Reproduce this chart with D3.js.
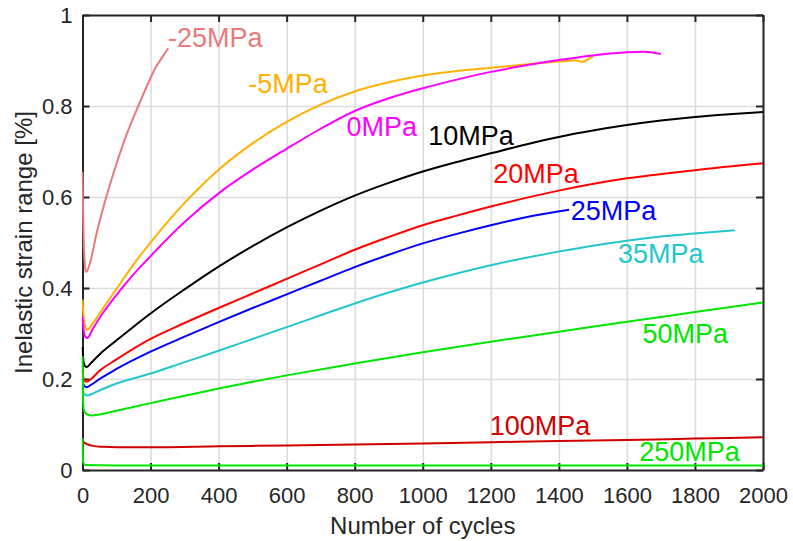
<!DOCTYPE html>
<html>
<head>
<meta charset="utf-8">
<script src="https://cdn.jsdelivr.net/npm/d3@7"></script>
<style>
  html, body { margin: 0; padding: 0; background: #fff; }
  svg { display: block; }
  text { font-family: "Liberation Sans", Arial, Helvetica, sans-serif; }
</style>
</head>
<body>
<svg id="chart" width="793" height="541"></svg>
<script>
// ---------------- DATA ----------------
const seriesNames = ["-25MPa", "-5MPa", "0MPa", "10MPa", "20MPa", "25MPa", "35MPa", "50MPa", "100MPa", "250MPa"];
const seriesColors = ["#e87a7a", "#ffb000", "#ff00ff", "#000000", "#ff0000", "#0000ff", "#22c6cc", "#00e600", "#d00000", "#00e600"];

const cycM25 = [0, 1, 3, 6, 10, 20, 42, 68, 100, 130, 164, 190, 213, 235, 252];
const valM25 = [0.655, 0.60, 0.52, 0.46, 0.435, 0.45, 0.522, 0.595, 0.673, 0.738, 0.80, 0.845, 0.882, 0.908, 0.927];

const cycM5 = [0, 3, 8, 14, 30, 60, 100, 150, 200, 300, 400, 500, 600, 700, 800, 900, 1000, 1100, 1200, 1300, 1400, 1450, 1470, 1490, 1500];
const valM5 = [0.375, 0.34, 0.315, 0.308, 0.322, 0.355, 0.398, 0.452, 0.50, 0.587, 0.660, 0.718, 0.765, 0.803, 0.832, 0.852, 0.867, 0.877, 0.884, 0.891, 0.898, 0.90, 0.897, 0.905, 0.908];

const cyc0 = [0, 3, 8, 14, 30, 60, 100, 150, 200, 300, 400, 500, 600, 700, 800, 900, 1000, 1100, 1200, 1300, 1400, 1500, 1600, 1650, 1700];
const val0 = [0.337, 0.31, 0.293, 0.29, 0.31, 0.345, 0.385, 0.43, 0.47, 0.545, 0.608, 0.66, 0.706, 0.75, 0.789, 0.817, 0.839, 0.858, 0.875, 0.889, 0.901, 0.911, 0.918, 0.919, 0.914];

const cyc10 = [0, 2, 6, 12, 25, 50, 100, 150, 200, 300, 400, 500, 600, 700, 800, 900, 1000, 1100, 1200, 1300, 1400, 1500, 1600, 1700, 1800, 1900, 2000];
const val10 = [0.27, 0.245, 0.23, 0.226, 0.235, 0.254, 0.285, 0.315, 0.344, 0.397, 0.447, 0.492, 0.533, 0.57, 0.603, 0.631, 0.656, 0.677, 0.696, 0.715, 0.732, 0.746, 0.758, 0.768, 0.776, 0.782, 0.787];

const cyc20 = [0, 2, 6, 12, 25, 50, 100, 200, 300, 400, 500, 600, 700, 800, 900, 1000, 1100, 1200, 1400, 1600, 1800, 2000];
const val20 = [0.22, 0.205, 0.196, 0.194, 0.2, 0.218, 0.243, 0.288, 0.323, 0.356, 0.388, 0.42, 0.452, 0.484, 0.512, 0.538, 0.559, 0.579, 0.614, 0.641, 0.659, 0.674];

const cyc25 = [0, 2, 6, 12, 25, 50, 100, 200, 300, 400, 500, 600, 700, 800, 900, 1000, 1100, 1200, 1300, 1430];
const val25 = [0.2, 0.19, 0.184, 0.182, 0.187, 0.2, 0.222, 0.26, 0.293, 0.325, 0.356, 0.386, 0.416, 0.446, 0.473, 0.498, 0.519, 0.538, 0.555, 0.572];

const cyc35 = [0, 2, 6, 15, 30, 60, 100, 200, 300, 400, 500, 600, 700, 800, 900, 1000, 1100, 1200, 1300, 1400, 1500, 1600, 1700, 1800, 1917];
const val35 = [0.18, 0.172, 0.166, 0.164, 0.168, 0.178, 0.19, 0.212, 0.237, 0.262, 0.288, 0.314, 0.34, 0.366, 0.39, 0.412, 0.432, 0.45, 0.466, 0.48, 0.493, 0.504, 0.513, 0.52, 0.527];

const cyc50 = [0, 1, 2, 4, 10, 25, 50, 100, 200, 300, 400, 500, 600, 800, 1000, 1200, 1400, 1600, 1800, 2000];
const val50 = [0.25, 0.2, 0.15, 0.132, 0.124, 0.12, 0.122, 0.13, 0.147, 0.163, 0.179, 0.194, 0.208, 0.234, 0.259, 0.282, 0.304, 0.326, 0.347, 0.368];

const cyc100 = [0, 3, 10, 30, 60, 100, 200, 400, 600, 800, 1000, 1200, 1400, 1600, 1800, 2000];
const val100 = [0.062, 0.061, 0.058, 0.053, 0.051, 0.05, 0.05, 0.052, 0.054, 0.056, 0.058, 0.061, 0.064, 0.066, 0.069, 0.072];

const cyc250 = [0, 1, 3, 10, 100, 500, 1000, 1500, 2000];
const val250 = [0.07, 0.03, 0.015, 0.011, 0.01, 0.01, 0.01, 0.01, 0.01];

// label anchor positions (data coords: cycles, value)
const labelCycles = [251, 487, 776, 1016, 1207, 1435, 1574, 1646, 1197, 1636];
const labelValues = [0.93, 0.829, 0.733, 0.714, 0.631, 0.549, 0.454, 0.28, 0.077, 0.0205];

const xTicks = [0, 200, 400, 600, 800, 1000, 1200, 1400, 1600, 1800, 2000];
const xTickLabels = ["0", "200", "400", "600", "800", "1000", "1200", "1400", "1600", "1800", "2000"];
const yTicks = [0, 0.2, 0.4, 0.6, 0.8, 1];
const yTickLabels = ["0", "0.2", "0.4", "0.6", "0.8", "1"];
const xTitle = "Number of cycles";
const yTitle = "Inelastic strain range [%]";

// ---------------- DRAW ----------------
const cycles = [cycM25, cycM5, cyc0, cyc10, cyc20, cyc25, cyc35, cyc50, cyc100, cyc250];
const values = [valM25, valM5, val0, val10, val20, val25, val35, val50, val100, val250];

const L = 82.5, R = 763, T = 15, B = 470;
const svg = d3.select("#chart");
const x = d3.scaleLinear().domain([0, 2000]).range([L, R]);
const y = d3.scaleLinear().domain([0, 1]).range([B, T]);

const axisColor = "#262626";

// grid
const gx = svg.append("g").attr("transform", `translate(0,${B})`)
  .call(d3.axisBottom(x).tickValues(xTicks).tickSize(-(B - T)).tickFormat(""));
gx.select(".domain").remove();
gx.selectAll("line").attr("stroke", "#dcdcdc").attr("stroke-width", 1.6);
const gy = svg.append("g").attr("transform", `translate(${L},0)`)
  .call(d3.axisLeft(y).tickValues(yTicks).tickSize(-(R - L)).tickFormat(""));
gy.select(".domain").remove();
gy.selectAll("line").attr("stroke", "#dcdcdc").attr("stroke-width", 1.6);

// axes
function styleAxis(g) {
  g.select(".domain").attr("stroke", axisColor).attr("stroke-width", 2);
  g.selectAll(".tick line").attr("stroke", axisColor).attr("stroke-width", 2);
  g.selectAll(".tick text").attr("fill", axisColor).attr("font-size", "22px")
    .attr("font-family", "'Liberation Sans', Arial, sans-serif");
}
const axB = svg.append("g").attr("transform", `translate(0,${B})`)
  .call(d3.axisBottom(x).tickValues(xTicks).tickFormat((d, i) => xTickLabels[i])
    .tickSizeInner(-7).tickSizeOuter(0).tickPadding(17));
styleAxis(axB);
const axT = svg.append("g").attr("transform", `translate(0,${T})`)
  .call(d3.axisTop(x).tickValues(xTicks).tickFormat("").tickSizeInner(-7).tickSizeOuter(0));
styleAxis(axT);
const axL = svg.append("g").attr("transform", `translate(${L},0)`)
  .call(d3.axisLeft(y).tickValues(yTicks).tickFormat((d, i) => yTickLabels[i])
    .tickSizeInner(-7).tickSizeOuter(0).tickPadding(10));
styleAxis(axL);
const axR = svg.append("g").attr("transform", `translate(${R},0)`)
  .call(d3.axisRight(y).tickValues(yTicks).tickFormat("").tickSizeInner(-7).tickSizeOuter(0));
styleAxis(axR);

// lines
svg.append("clipPath").attr("id", "clip").append("rect")
  .attr("x", L - 1).attr("y", T).attr("width", R - L + 1).attr("height", B - T);
const line = d3.line().x(d => x(d[0])).y(d => y(d[1])).curve(d3.curveMonotoneX);
const lg = svg.append("g").attr("clip-path", "url(#clip)");
seriesNames.forEach((name, i) => {
  const pts = cycles[i].map((c, k) => [c, values[i][k]]);
  lg.append("path").datum(pts)
    .attr("d", line)
    .attr("fill", "none")
    .attr("stroke", seriesColors[i])
    .attr("stroke-width", 2)
    .attr("stroke-linejoin", "round");
});

// labels
seriesNames.forEach((name, i) => {
  svg.append("text")
    .attr("x", x(labelCycles[i]))
    .attr("y", y(labelValues[i]))
    .attr("fill", seriesColors[i])
    .attr("font-size", "27px")
    .text(name);
});

// titles
svg.append("text")
  .attr("x", (L + R) / 2).attr("y", 534)
  .attr("text-anchor", "middle").attr("fill", axisColor).attr("font-size", "24px")
  .text(xTitle);
svg.append("text")
  .attr("transform", `translate(32,${(T + B) / 2}) rotate(-90)`)
  .attr("text-anchor", "middle").attr("fill", axisColor).attr("font-size", "24px")
  .text(yTitle);
</script>
</body>
</html>
